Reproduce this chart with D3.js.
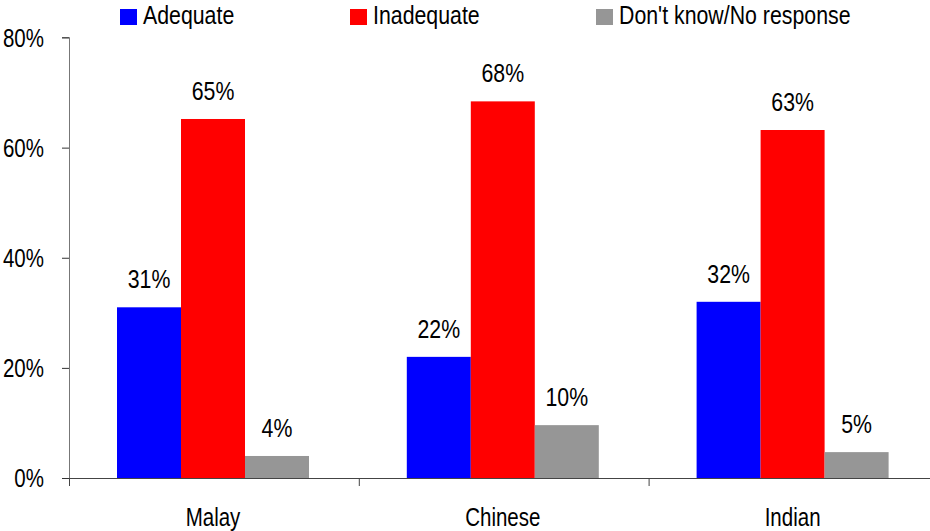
<!DOCTYPE html>
<html><head><meta charset="utf-8">
<script src="https://cdn.jsdelivr.net/npm/d3@7"></script>
<style>
body{margin:0;background:#fff;}
text{font-family:"Liberation Sans",Arial,sans-serif;fill:#000;}
</style></head>
<body><svg id="c" width="930" height="531"></svg>
<script>
const categories = ["Malay", "Chinese", "Indian"];
const seriesNames = ["Adequate", "Inadequate", "Don't know/No response"];
const seriesColors = ["#0000ff", "#ff0000", "#969696"];
const adequate = [31.0, 22.0, 32.0];
const inadequate = [65.2, 68.4, 63.2];
const dontKnow = [4.0, 9.6, 4.7];
const yTicks = [0, 20, 40, 60, 80];

const series = [adequate, inadequate, dontKnow];
const svg = d3.select("#c");
const x0 = 69, yBottom = 478, yTop = 37.5, band = 289.8;
const SX = 0.82;

function label(g, x, y, str, size, anchor) {
  return g.append("text")
    .attr("transform", `translate(${x},${y}) scale(${SX},1)`)
    .attr("text-anchor", anchor || "start")
    .attr("font-size", size)
    .text(str);
}

const x = d3.scaleBand().domain(categories).range([x0, x0 + band * 3]).paddingInner(0).paddingOuter(0);
const xs = d3.scaleBand().domain(d3.range(series.length)).range([48, 48 + 192]).paddingInner(0).paddingOuter(0);
const y = d3.scaleLinear().domain([0, 80]).range([yBottom, yTop]);

// bars
categories.forEach((c, ci) => {
  series.forEach((s, si) => {
    svg.append("rect")
      .attr("x", x(c) + xs(si))
      .attr("y", y(s[ci]))
      .attr("width", xs.bandwidth())
      .attr("height", y(0) - y(s[ci]))
      .attr("fill", seriesColors[si]);
    label(svg, x(c) + xs(si) + xs.bandwidth() / 2, y(s[ci]) - 19, d3.format(".0f")(s[ci]) + "%", 26, "middle");
  });
});

// y axis
const yAxis = svg.append("g").attr("transform", `translate(${x0},0)`)
  .call(d3.axisLeft(y).tickValues(yTicks).tickFormat("").tickSize(7));
yAxis.select(".domain").attr("stroke", "#777").attr("d", `M-7,${y(80)}H0.5V${y(0)}`);
yAxis.selectAll(".tick line").attr("stroke", "#333");
yTicks.forEach(t => label(svg, 44, y(t) + 9, t + "%", 25, "end"));

// x axis
const xAxisG = svg.append("g").attr("transform", `translate(0,${yBottom})`);
xAxisG.append("line").attr("x1", x0).attr("x2", 930).attr("y1", 0.5).attr("y2", 0.5).attr("stroke", "#444");
categories.forEach(c => {
  xAxisG.append("line").attr("x1", x(c) + 0.5).attr("x2", x(c) + 0.5).attr("y1", 0).attr("y2", 8).attr("stroke", "#444");
  label(xAxisG, x(c) + xs(1) + xs.bandwidth() / 2, 48, c, 25, "middle");
});

// legend
const legendX = [120, 350, 596];
seriesNames.forEach((n, i) => {
  svg.append("rect").attr("x", legendX[i]).attr("y", 9).attr("width", 17).attr("height", 16).attr("fill", seriesColors[i]);
  label(svg, legendX[i] + 23, 24, n, 26, "start");
});
</script></body></html>
